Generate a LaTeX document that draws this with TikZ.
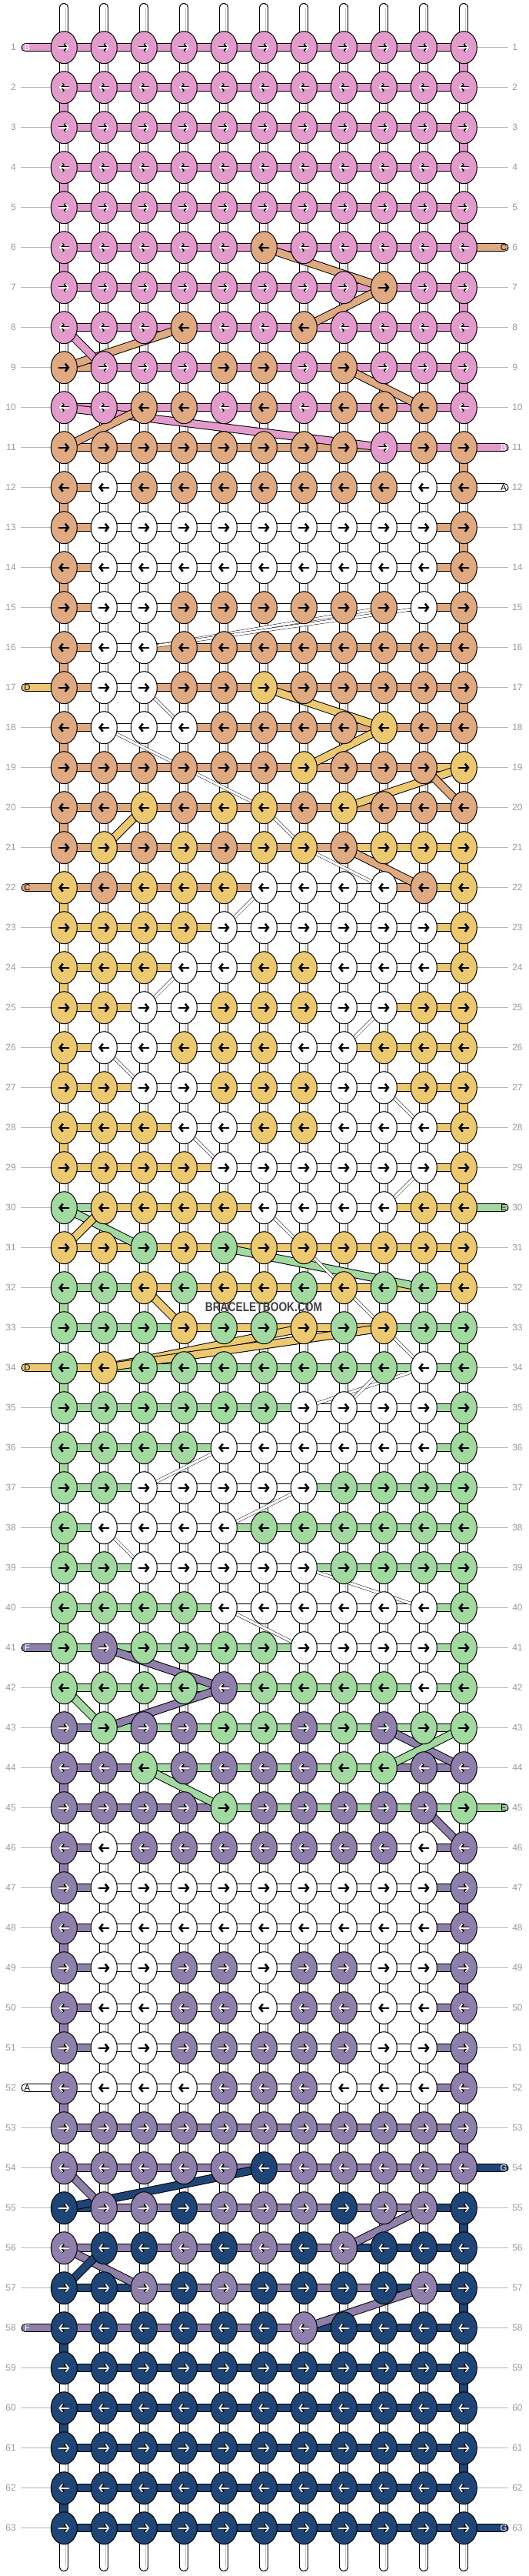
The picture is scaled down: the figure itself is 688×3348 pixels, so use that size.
\documentclass[tikz,border=0pt]{standalone}
\usepackage{fontspec}
\setmainfont{Liberation Sans}
\usetikzlibrary{shapes.geometric, arrows.meta}

\definecolor{cP}{HTML}{E29BCB}
\definecolor{cT}{HTML}{DFA981}
\definecolor{cY}{HTML}{ECC870}
\definecolor{cG}{HTML}{A1D9A1}
\definecolor{cV}{HTML}{8E7FAB}
\definecolor{cN}{HTML}{1F4577}
\definecolor{cW}{HTML}{FFFFFF}
\definecolor{numgray}{HTML}{9A9A9A}
\colorlet{aP}{white}\colorlet{aV}{white}\colorlet{aN}{white}
\colorlet{aT}{black}\colorlet{aY}{black}\colorlet{aG}{black}\colorlet{aW}{black}

\pgfdeclarelayer{tubes}
\pgfdeclarelayer{strands}
\pgfdeclarelayer{diag}
\pgfsetlayers{tubes,strands,diag,main}

\tikzset{
  oP/.style={line width=2.6pt}, oV/.style={line width=2.6pt}, oN/.style={line width=2.6pt},
  oT/.style={line width=1.8pt}, oY/.style={line width=1.8pt}, oG/.style={line width=1.8pt}, oW/.style={line width=1.8pt}
}

\begin{document}
\begin{tikzpicture}[x=0.75pt, y=-0.75pt,
  knot/.style={ellipse, draw=black, line width=0.75pt, minimum width=25.5pt, minimum height=31.5pt, inner sep=0pt},
  arw/.style={-{Straight Barb[length=3pt, width=7.5pt]}},
  tube/.style={draw=black, line width=0.75pt, double distance=7.5pt},
  bar/.style={draw=black, line width=0.75pt, double distance=6.75pt},
  thinw/.style={draw=black, line width=0.35pt, double=white, double distance=2.4pt},
  numlab/.style={inner sep=0pt, text=numgray, font=\fontsize{9}{10}\selectfont},
  endlab/.style={inner sep=0pt, font=\fontsize{8.5}{10}\selectfont}]
\useasboundingbox (0,0) rectangle (688,3348);
\begin{pgfonlayer}{tubes}
\fill[white] (0,0) rectangle (688,3348);
\end{pgfonlayer}

% knots, arrows, bars and row numbers
\foreach \row/\kl/\bl in {
1/{P,P,P,P,P,P,P,P,P,P,P}/{P,P,P,P,P,P,P,P,P,P},
2/{P,P,P,P,P,P,P,P,P,P,P}/{P,P,P,P,P,P,P,P,P,P},
3/{P,P,P,P,P,P,P,P,P,P,P}/{P,P,P,P,P,P,P,P,P,P},
4/{P,P,P,P,P,P,P,P,P,P,P}/{P,P,P,P,P,P,P,P,P,P},
5/{P,P,P,P,P,P,P,P,P,P,P}/{P,P,P,P,P,P,P,P,P,P},
6/{P,P,P,P,P,T,P,P,P,P,P}/{P,P,P,P,P,P,P,P,P,P},
7/{P,P,P,P,P,P,P,P,T,P,P}/{P,P,P,P,P,P,P,P,P,P},
8/{P,P,P,T,P,P,T,P,P,P,P}/{P,P,P,P,P,P,P,P,P,P},
9/{T,P,P,P,T,T,P,T,P,P,P}/{T,P,P,P,P,P,P,P,P,P},
10/{P,P,T,T,P,T,P,T,T,T,P}/{P,P,P,P,P,P,P,P,P,P},
11/{T,T,T,T,T,T,T,T,P,T,T}/{T,T,T,T,T,T,T,T,P,P},
12/{T,W,T,T,T,T,T,T,T,W,T}/{T,W,W,W,W,W,W,W,W,W},
13/{T,W,W,W,W,W,W,W,W,W,T}/{T,W,W,W,W,W,W,W,W,T},
14/{T,W,W,W,W,W,W,W,W,W,T}/{T,W,W,W,W,W,W,W,W,T},
15/{T,W,W,T,T,T,T,T,T,W,T}/{T,W,W,W,W,W,W,W,W,T},
16/{T,W,W,T,T,T,T,T,T,T,T}/{T,W,T,T,T,T,T,T,T,T},
17/{T,W,W,T,T,Y,T,T,T,T,T}/{T,W,T,T,T,T,T,T,T,T},
18/{T,W,W,W,T,T,T,T,Y,T,T}/{T,W,W,T,T,T,T,T,T,T},
19/{T,T,T,T,T,T,Y,T,T,T,Y}/{T,T,T,T,T,T,T,T,T,Y},
20/{T,T,Y,T,Y,Y,T,Y,T,T,T}/{T,T,T,T,T,T,T,T,T,T},
21/{T,Y,T,Y,T,Y,Y,T,Y,Y,Y}/{T,T,T,T,T,T,T,Y,Y,Y},
22/{Y,T,Y,Y,Y,W,W,W,W,T,Y}/{T,T,T,T,T,W,W,W,T,Y},
23/{Y,Y,Y,Y,W,W,W,W,W,W,Y}/{Y,Y,Y,Y,W,W,W,W,W,Y},
24/{Y,Y,Y,W,W,Y,Y,W,W,W,Y}/{Y,Y,Y,W,W,W,W,W,W,Y},
25/{Y,Y,W,W,Y,Y,Y,W,W,Y,Y}/{Y,Y,W,W,W,W,W,W,Y,Y},
26/{Y,W,W,Y,Y,Y,W,W,Y,Y,Y}/{Y,W,W,W,W,W,W,Y,Y,Y},
27/{Y,Y,W,W,Y,Y,Y,W,W,Y,Y}/{Y,Y,W,W,W,W,W,W,Y,Y},
28/{Y,Y,Y,W,W,Y,Y,W,W,W,Y}/{Y,Y,Y,W,W,W,W,W,W,Y},
29/{Y,Y,Y,Y,W,W,W,W,W,W,Y}/{Y,Y,Y,Y,W,W,W,W,W,Y},
30/{G,Y,Y,Y,Y,W,W,W,W,Y,Y}/{G,Y,Y,Y,Y,W,W,W,Y,Y},
31/{Y,Y,G,Y,G,Y,Y,Y,Y,Y,Y}/{Y,Y,Y,Y,Y,Y,Y,Y,Y,Y},
32/{G,G,Y,G,Y,Y,G,Y,G,G,Y}/{G,G,Y,Y,Y,Y,Y,Y,Y,Y},
33/{G,G,G,Y,G,G,Y,G,Y,G,G}/{G,G,G,Y,Y,Y,Y,Y,G,G},
34/{G,Y,G,G,G,G,G,G,G,W,G}/{Y,G,G,G,G,G,G,G,G,G},
35/{G,G,G,G,G,G,W,W,W,W,G}/{G,G,G,G,G,G,W,W,W,G},
36/{G,G,G,G,W,W,W,W,W,W,G}/{G,G,G,G,W,W,W,W,W,G},
37/{G,G,W,W,W,W,W,G,G,G,G}/{G,G,W,W,W,W,G,G,G,G},
38/{G,W,W,W,W,G,G,G,G,G,G}/{G,W,W,W,G,G,G,G,G,G},
39/{G,G,W,W,W,W,W,G,G,G,G}/{G,G,W,W,W,W,G,G,G,G},
40/{G,G,G,G,W,W,W,W,W,W,G}/{G,G,G,G,W,W,W,W,W,G},
41/{G,V,G,G,G,G,W,W,W,W,G}/{G,G,G,G,G,G,W,W,W,G},
42/{G,G,G,G,V,G,G,G,G,W,G}/{G,G,G,G,G,G,G,G,G,G},
43/{V,G,V,V,G,G,V,G,V,G,G}/{V,G,G,G,G,G,G,G,G,G},
44/{V,V,G,V,V,V,V,G,G,V,V}/{V,V,G,G,G,G,G,G,V,V},
45/{V,V,V,V,G,V,V,V,V,V,G}/{V,V,V,V,G,G,G,G,G,G},
46/{V,W,V,V,V,V,V,V,V,W,V}/{V,W,W,W,W,W,W,W,W,V},
47/{V,W,W,W,W,W,W,W,W,W,V}/{V,W,W,W,W,W,W,W,W,V},
48/{V,W,W,W,W,W,W,W,W,W,V}/{V,W,W,W,W,W,W,W,W,V},
49/{V,W,W,V,V,W,V,V,W,W,V}/{V,W,W,W,W,W,W,W,W,V},
50/{V,W,W,V,V,W,V,V,W,W,V}/{V,W,W,W,W,W,W,W,W,V},
51/{V,W,W,V,V,V,V,V,W,W,V}/{V,W,W,W,W,W,W,W,W,V},
52/{V,W,W,W,V,V,V,W,W,W,V}/{W,W,W,W,W,W,W,W,W,V},
53/{V,V,V,V,V,V,V,V,V,V,V}/{V,V,V,V,V,V,V,V,V,V},
54/{V,V,V,V,V,N,V,V,V,V,V}/{V,V,V,V,V,V,V,V,V,V},
55/{N,V,V,N,V,V,V,N,V,V,N}/{N,V,V,V,V,V,V,V,V,N},
56/{V,N,N,V,N,V,N,V,N,N,N}/{V,V,V,V,V,V,V,N,N,N},
57/{N,N,V,N,V,N,N,N,N,V,N}/{N,N,V,V,V,V,V,V,N,N},
58/{N,N,N,N,N,N,V,N,N,N,N}/{V,V,V,V,V,V,N,N,N,N},
59/{N,N,N,N,N,N,N,N,N,N,N}/{N,N,N,N,N,N,N,N,N,N},
60/{N,N,N,N,N,N,N,N,N,N,N}/{N,N,N,N,N,N,N,N,N,N},
61/{N,N,N,N,N,N,N,N,N,N,N}/{N,N,N,N,N,N,N,N,N,N},
62/{N,N,N,N,N,N,N,N,N,N,N}/{N,N,N,N,N,N,N,N,N,N},
63/{N,N,N,N,N,N,N,N,N,N,N}/{N,N,N,N,N,N,N,N,N,N}}{
  \pgfmathsetmacro{\y}{61.7+(\row-1)*52}
  \pgfmathsetmacro{\dr}{mod(\row,2)==1 ? 1 : -1}
  \foreach \kn [count=\col] in \kl {
    \node[knot, fill=c\kn] (k-\row-\col) at ({83.3+(\col-1)*52},\y) {};
    \expandafter\xdef\csname kc\row-\col\endcsname{\kn}
    \draw[shift={(k-\row-\col.center)}, black, o\kn, arw] ({-7*\dr},0) -- ({7*\dr},0);
    \draw[shift={(k-\row-\col.center)}, a\kn, line width=1.2pt, arw] ({-7*\dr},0) -- ({7*\dr},0);
  }
  \begin{pgfonlayer}{strands}
  \foreach \bc [count=\col] in \bl {
    \pgfmathtruncatemacro{\nx}{\col+1}
    \draw[bar, double=c\bc] (k-\row-\col.center) -- (k-\row-\nx.center);
  }
  \end{pgfonlayer}
  \node[numlab, anchor=east] (ln-\row) at (21,\y) {\row};
  \node[numlab, anchor=west] (rn-\row) at (666,\y) {\row};
  \begin{pgfonlayer}{tubes}
  \draw[numgray!70, line width=0.75pt, shorten <=4.5pt] (ln-\row.east) -- (k-\row-1.center);
  \draw[numgray!70, line width=0.75pt, shorten >=3.75pt] (k-\row-11.center) -- (rn-\row.west);
  \end{pgfonlayer}
}

% background strands
\begin{pgfonlayer}{tubes}
\foreach \col in {1,...,11}{
  \coordinate (top-\col) at ({83.3+(\col-1)*52},10);
  \coordinate (bot-\col) at ({83.3+(\col-1)*52},3336);
  \draw[tube, double=white, line cap=round] (top-\col) -- (bot-\col);
  \draw[gray!45, line width=0.6pt] ([xshift=1.5pt]top-\col) -- ([xshift=1.5pt]bot-\col);
}
% turns at the edges
\foreach \row in {1,...,62}{
  \pgfmathtruncatemacro{\nx}{\row+1}
  \pgfmathtruncatemacro{\ec}{mod(\row,2)==1 ? 11 : 1}
  \edef\ca{\csname kc\row-\ec\endcsname}
  \edef\cb{\csname kc\nx-\ec\endcsname}
  \ifx\ca\cb \draw[tube, double=c\ca] (k-\row-\ec.center) -- (k-\nx-\ec.center); \fi
}
\end{pgfonlayer}

% loose ends
\begin{pgfonlayer}{strands}
\foreach \row/\sc/\lt/\tc in {1/P/B/white, 17/Y/D/black, 22/T/C/black, 34/Y/D/black, 41/V/F/white, 52/W/A/black, 58/V/F/white}{
  \coordinate (le-\row) at (33,{61.7+(\row-1)*52});
  \draw[bar, double=c\sc, line cap=round] (k-\row-1.center) -- (le-\row);
  \node[endlab, text=\tc] (lt-\row) at (35.5,{61.7+(\row-1)*52}) {\lt};
}
\foreach \row/\sc/\lt/\tc in {6/T/C/black, 11/P/B/white, 12/W/A/black, 30/G/E/black, 45/G/E/black, 54/N/G/white, 63/N/G/white}{
  \coordinate (re-\row) at (656,{61.7+(\row-1)*52});
  \draw[bar, double=c\sc, line cap=round] (k-\row-11.center) -- (re-\row);
  \node[endlab, text=\tc] (rt-\row) at (655,{61.7+(\row-1)*52}) {\lt};
}
\end{pgfonlayer}

% strands that jump rows
\begin{pgfonlayer}{diag}
\foreach \ra/\ca/\rb/\cb/\dc in {6/6/7/9/T, 7/9/8/7/T, 8/4/9/1/T, 8/1/9/2/P, 9/8/10/10/T, 10/1/11/9/P, 10/3/11/1/T,
  17/6/18/9/Y, 18/9/19/7/Y, 19/11/20/8/Y, 19/10/20/11/T, 20/3/21/2/Y, 21/8/22/10/T,
  30/1/31/3/G, 31/1/30/2/Y, 31/5/32/10/G, 32/3/33/4/Y, 33/7/34/2/Y, 33/9/34/2/Y,
  41/2/42/5/V, 42/5/43/2/V, 42/1/43/2/G, 43/9/44/11/V, 44/9/43/11/G, 44/3/45/5/G, 45/10/46/11/V,
  54/6/55/1/N, 54/1/55/2/V, 55/10/56/8/V, 56/1/57/3/V, 56/2/57/1/N, 57/10/58/7/V}
  \draw[bar, double=c\dc] (k-\ra-\ca.center) -- (k-\rb-\cb.center);
\foreach \ra/\ca/\rb/\cb in {15/9/16/3, 15/10/16/3, 17/3/18/4, 18/2/19/4, 19/4/20/6, 20/6/21/7, 21/7/22/9,
  22/6/23/5, 24/4/25/3, 25/9/26/8, 26/2/27/3, 27/9/28/10, 28/4/29/5, 29/10/30/9, 30/6/31/7,
  31/7/33/9, 33/9/34/10, 34/10/35/7, 34/9/35/8, 36/5/37/3, 37/7/38/5, 38/2/39/3, 39/7/40/10, 40/5/41/7}
  \draw[thinw] (k-\ra-\ca.center) -- (k-\rb-\cb.center);
\end{pgfonlayer}

\node[font=\bfseries\fontsize{12.6}{14}\selectfont, text=black!75, xscale=0.82, transform shape] (mark) at (343,1699) {BRACELETBOOK.COM};
\end{tikzpicture}
\end{document}
